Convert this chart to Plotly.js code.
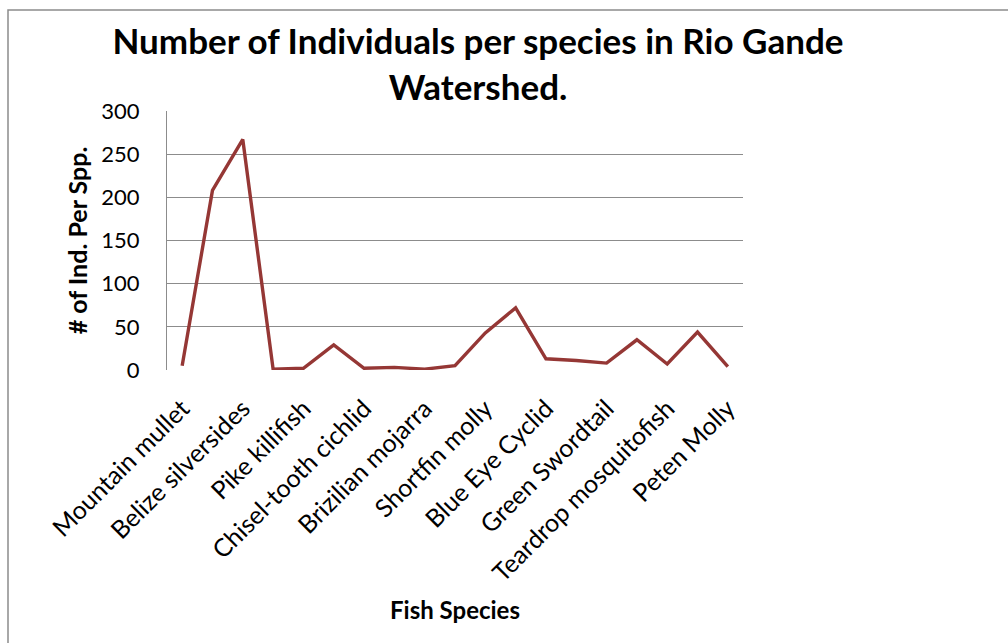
<!DOCTYPE html>
<html>
<head>
<meta charset="utf-8">
<script src="https://cdn.plot.ly/plotly-3.0.1.min.js"></script>
<style>
  html, body { margin: 0; padding: 0; background: #fff; }
  #chart { width: 1008px; height: 643px; }
</style>
</head>
<body>
<div id="chart"></div>
<script>
// Species labels shown on the category axis (every second sample point is labelled)
const speciesLabels = [
  'Mountain mullet', 'Belize silversides', 'Pike killifish', 'Chisel-tooth cichlid',
  'Brizilian mojarra', 'Shortfin molly', 'Blue Eye Cyclid', 'Green Swordtail',
  'Teardrop mosquitofish', 'Peten Molly'
];
// Number of individuals counted at each sample point along the axis
const individualCounts = [5, 208, 267, 1, 2, 29, 2, 3, 1, 5, 43, 72, 13, 11, 8, 35, 7, 44, 4];
const yTicks = [0, 50, 100, 150, 200, 250, 300];

const xIdx = individualCounts.map((_, i) => i);
const labelPositions = speciesLabels.map((_, i) => i * 2);

const FONT = 'Lato, "Open Sans", sans-serif';

const trace = {
  type: 'scatter',
  mode: 'lines',
  x: xIdx,
  y: individualCounts,
  line: { color: '#953735', width: 3.4 },
  hoverinfo: 'x+y',
  showlegend: false
};

const layout = {
  width: 1008,
  height: 643,
  paper_bgcolor: '#ffffff',
  plot_bgcolor: '#ffffff',
  margin: { l: 167, r: 265, t: 111, b: 273 },
  font: { family: FONT, color: '#000' },
  title: {
    text: 'Number of Individuals per species in Rio Gande<br>Watershed.',
    font: { family: FONT, size: 35, color: '#000', weight: 'bold' },
    x: 478 / 1008, xanchor: 'center', xref: 'container',
    y: 1 - 54 / 643, yanchor: 'middle', yref: 'container'
  },
  xaxis: {
    range: [-0.5, individualCounts.length - 0.5],
    tickmode: 'array',
    tickvals: labelPositions,
    ticktext: speciesLabels,
    tickangle: -45,
    tickfont: { family: FONT, size: 25, color: '#000' },
    ticklabelstandoff: 18,
    showgrid: false,
    zeroline: false,
    showline: false,
    ticks: '',
    title: {
      text: 'Fish Species',
      font: { family: FONT, size: 24, color: '#000', weight: 'bold' },
      standoff: 16
    },
    automargin: false,
    fixedrange: true
  },
  yaxis: {
    range: [0, 300],
    tickmode: 'array',
    tickvals: yTicks,
    tickfont: { family: FONT, size: 22, color: '#000' },
    showgrid: true,
    gridcolor: '#8c8c8c',
    gridwidth: 1,
    zeroline: false,
    showline: true,
    linecolor: '#8c8c8c',
    linewidth: 1,
    ticks: '',
    ticklabelstandoff: 22,
    title: {
      text: '# of Ind. Per Spp.',
      font: { family: FONT, size: 25, color: '#000', weight: 'bold' },
      standoff: 6
    },
    automargin: false,
    fixedrange: true
  },
  shapes: [
    {
      type: 'rect', xref: 'paper', yref: 'paper',
      x0: (8 - 167) / 576, x1: (1030 - 167) / 576,
      y0: (370 - 660) / 259, y1: (370 - 10) / 259,
      line: { color: '#8c8c8c', width: 1.5 },
      fillcolor: 'rgba(0,0,0,0)',
      layer: 'below'
    }
  ]
};

Plotly.newPlot('chart', [trace], layout, { displayModeBar: false, staticPlot: true });
</script>
</body>
</html>
